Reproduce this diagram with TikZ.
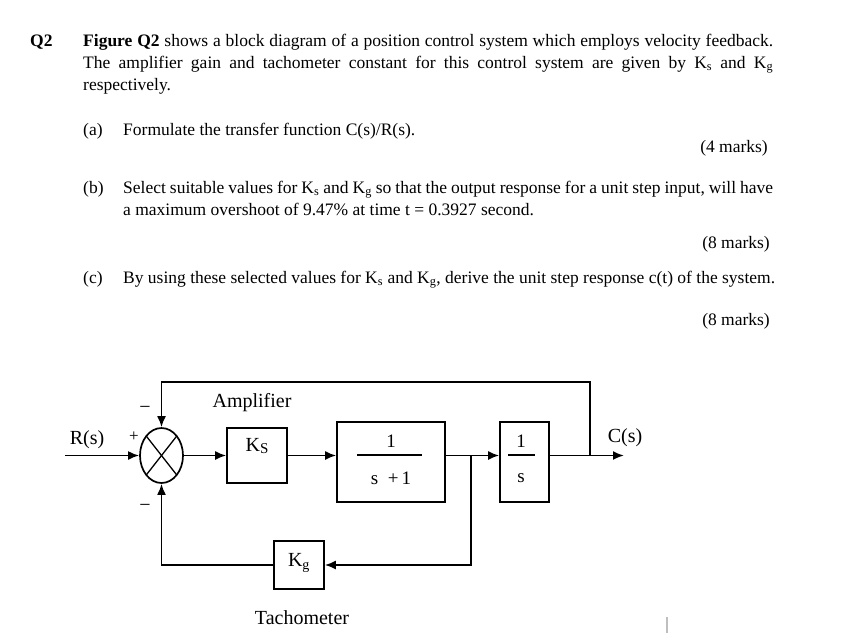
\documentclass[tikz,border=0pt]{standalone}
\usepackage{fontspec}
\setmainfont{Liberation Serif}
\usetikzlibrary{arrows.meta,calc,shapes.geometric}
\begin{document}
\begin{tikzpicture}[x=1pt,y=-1pt,
  txt/.style={font=\fontsize{17.5}{22}\selectfont, inner sep=0, anchor=base west},
  mrk/.style={font=\fontsize{17.5}{22}\selectfont, inner sep=0, anchor=base east},
  lbl/.style={font=\fontsize{19}{22}\selectfont, inner sep=0},
  sgn/.style={font=\fontsize{20}{20}\selectfont, inner sep=0},
  blk/.style={draw, line width=1.6pt, inner sep=0},
  wire/.style={line width=1.9pt},
  arr/.style={wire, -{Latex[length=11pt,width=9pt]}}]
\fill[white] (0,0) rectangle (848,641);
\useasboundingbox (0,0) rectangle (848,641);
% ---- text ----
\node[txt] (q2) at (30,46) {\textbf{Q2}};
\node[txt] (p1) at (83,46) {\makebox[690pt][s]{\textbf{Figure Q2} shows a block diagram of a position control system which employs velocity feedback.}};
\node[txt] (p2) at (83,68) {\makebox[690pt][s]{The amplifier gain and tachometer constant for this control system are given by K\textsubscript{s} and K\textsubscript{g}}};
\node[txt] (p3) at (83,90) {respectively.};
\node[txt] (a) at (83,135) {(a)};
\node[txt] (at) at (123,135) {Formulate the transfer function C(s)/R(s).};
\node[mrk] (am) at (768,152) {(4 marks)};
\node[txt] (b) at (83,193) {(b)};
\node[txt] (bt1) at (123,193) {\makebox[650pt][s]{Select suitable values for K\textsubscript{s} and K\textsubscript{g} so that the output response for a unit step input, will have}};
\node[txt] (bt2) at (123,215) {a maximum overshoot of 9.47\% at time t = 0.3927 second.};
\node[mrk] (bm) at (770,248) {(8 marks)};
\node[txt] (c) at (83,283) {(c)};
\node[txt] (ct) at (123,283) {By using these selected values for K\textsubscript{s} and K\textsubscript{g}, derive the unit step response c(t) of the system.};
\node[mrk] (cm) at (770,325) {(8 marks)};
% ---- diagram ----
\node[draw, ellipse, line width=1.7pt, minimum width=43, minimum height=55, inner sep=0] (s) at (161.5,455.5) {};
\draw[line width=1.3pt] ($(s.center)+(-15.2,-19.4)$) -- ($(s.center)+(15.2,19.4)$);
\draw[line width=1.3pt] ($(s.center)+(-15.2,19.4)$) -- ($(s.center)+(15.2,-19.4)$);
\node[blk, minimum width=60, minimum height=55] (ks) at (257,455.5) {};
\node[lbl, font=\fontsize{20}{22}\selectfont] (ksl) at (257,446) {K\raisebox{-0.12em}{\fontsize{15}{15}\selectfont S}};
\node[blk, minimum width=108, minimum height=80] (g1) at (391,462) {};
\node[lbl] (g1n) at (391,441) {1};
\node[lbl] (g1d) at (391,478) {s\ \ +\,1};
\draw[line width=1.4pt] (357,455) -- (422,455);
\node[blk, minimum width=49, minimum height=80] (g2) at (524.5,462) {};
\node[lbl] (g2n) at (521,441) {1};
\node[lbl] (g2d) at (521,478) {s};
\draw[line width=1.4pt] (508,455) -- (535,455);
\node[blk, minimum width=50, minimum height=48] (kg) at (299,565) {};
\node[lbl, font=\fontsize{20}{22}\selectfont] (kgl) at (299,563) {K\textsubscript{g}};
% labels
\node[lbl, font=\fontsize{20}{22}\selectfont] (rs) at (87,440) {R(s)};
\node[sgn, font=\fontsize{17}{17}\selectfont] (pl) at (134,437) {+};
\node[sgn] (m1) at (145,410) {−};
\node[sgn] (m2) at (145,508) {−};
\node[lbl, font=\fontsize{20}{22}\selectfont] (amp) at (252,403) {Amplifier};
\node[lbl, font=\fontsize{20}{22}\selectfont] (cs) at (625,438) {C(s)};
\node[lbl, font=\fontsize{20}{22}\selectfont] (tach) at (302,618) {Tachometer};
% wires
\coordinate (rin) at (65,455.5);
\coordinate (b1) at (471,455.5);
\coordinate (b2) at (590,455.5);
\coordinate (cout) at (624,455.5);
\coordinate (tl) at (161.5,382);
\draw[arr] (rin) -- (s.west);
\draw[arr] (s.east) -- (ks.west);
\draw[arr] (ks.east) -- (ks.east -| g1.west);
\draw[wire] (ks.east -| g1.east) -- (b1);
\draw[arr] (b1) -- (b1 -| g2.west);
\draw[arr] (b1 -| g2.east) -- (cout);
\draw[arr] (b2) -- (b2 |- tl) -- (tl) -- (s.north);
\draw[arr] (kg.west) -- (kg.west -| s.south) -- (s.south);
\draw[arr] (b1) -- (b1 |- kg.east) -- (kg.east);
\draw[gray!50, line width=1.2pt] (667,617) -- (667,633);
\end{tikzpicture}
\end{document}
